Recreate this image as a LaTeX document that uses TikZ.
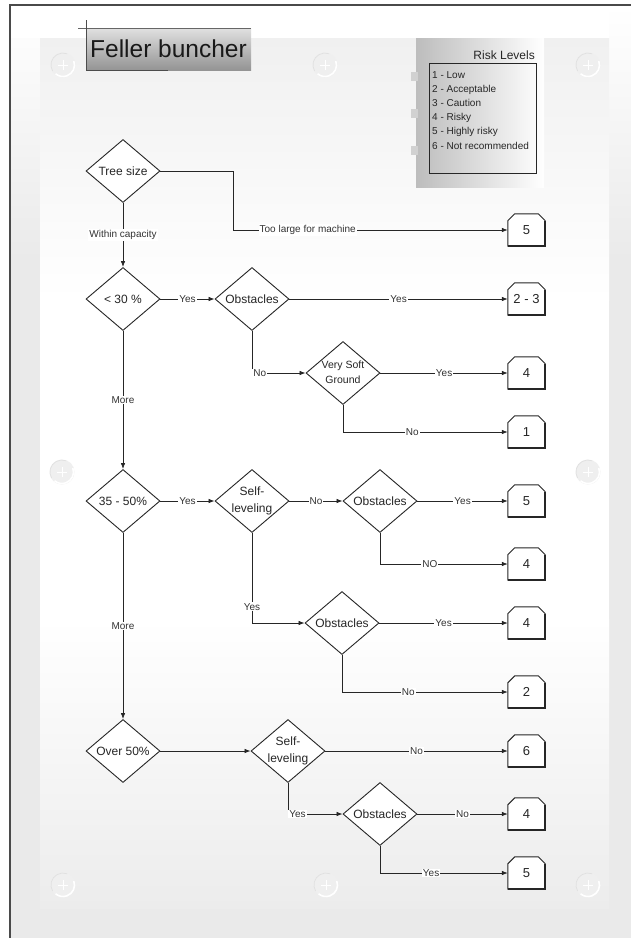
\documentclass[tikz,border=0pt]{standalone}
\usepackage{fontspec}
\setmainfont{Liberation Sans}
\usetikzlibrary{shapes.geometric,arrows.meta}
\definecolor{bgB}{HTML}{EAEAEA}
\definecolor{panT}{HTML}{F0F0F0}
\definecolor{panM}{HTML}{FFFFFF}
\definecolor{panB}{HTML}{ECECEC}
\definecolor{frameC}{HTML}{4A4A4A}
\definecolor{holeF}{HTML}{EFEFEF}
\definecolor{holeD}{HTML}{E0E0E0}
\definecolor{inkC}{HTML}{262626}
\newcommand\chamf[1]{%
  \filldraw[fill=white, draw=inkC, line width=0.9pt]
    (#1.south west) -- ([yshift=-7pt]#1.north west) -- ([xshift=7pt]#1.north west)
    -- ([xshift=-7pt]#1.north east) -- ([yshift=-7pt]#1.north east) -- (#1.south east) -- cycle;
  \draw[inkC, line width=1.6pt] ([yshift=-7pt]#1.north east) -- (#1.south east) -- (#1.south west);
}
\newcommand\hole[2]{%
  \fill[holeF] (#1,#2) circle (12.5);
  \draw[holeD, line width=0.7pt] (#1,#2) ++(150:12) arc (150:290:12);
  \draw[white, line width=1.6pt] (#1,#2) ++(-20:11.5) arc (-20:130:11.5);
  \draw[white, line width=0.7pt] (#1-5,#2) -- (#1+5,#2) (#1,#2-5) -- (#1,#2+5);
}
\tikzset{
  dia/.style={diamond, draw=inkC, fill=white, line width=0.9pt, minimum width=74pt, minimum height=63pt, inner sep=0pt},
  dtxt/.style={font=\fontsize{12}{17}\selectfont, align=center, inner sep=0pt, text=inkC},
  boxn/.style={rectangle, minimum width=37pt, minimum height=32pt, inner sep=0pt, draw=none},
  btxt/.style={font=\fontsize{13}{15}\selectfont, inner sep=0pt, text=inkC},
  conn/.style={draw=inkC, line width=0.7pt, -{Latex[length=6pt,width=4.5pt]}},
  lbl/.style={font=\fontsize{10}{12}\selectfont, fill=white, inner sep=1pt, text=black!80},
  risk/.style={font=\fontsize{10}{12}\selectfont, inner sep=0pt, text=inkC},
}
\begin{document}
\begin{tikzpicture}[x=1pt,y=-1pt]
\useasboundingbox (0,0) rectangle (631,938);
% background
\fill[white] (0,0) rectangle (631,938);
\shade[top color=white, bottom color=bgB] (10,5) rectangle (631,260);
\fill[bgB] (10,259) rectangle (631,938);
\fill[white] (10,5) rectangle (609,38);
\shade[top color=panT, bottom color=panM] (40,38) rectangle (609,300);
\fill[panM] (40,299) rectangle (609,620);
\shade[top color=panM, bottom color=panB] (40,619) rectangle (609,908);
\draw[frameC, line width=2.2pt] (640,5) -- (10,5) -- (10,945);
% binder holes
\hole{63}{65}\hole{325}{65}\hole{588}{65}
\hole{62}{472}\hole{588}{472}
\hole{63}{885}\hole{326}{885}\hole{588}{885}
% title
\shade[top color=black!12, bottom color=black!42] (86,28) rectangle (251,70);
\draw[black!60, line width=0.6pt] (78,28) -- (251,28);
\draw[black!70, line width=0.8pt] (86,20) -- (86,70);
\draw[black!70, line width=1pt] (86,70) -- (168,70);
\node[font=\fontsize{24.5}{28}\selectfont, inner sep=0pt, anchor=base west, text=black!90] (title) at (90,57) {Feller buncher};
% risk levels panel
\shade[left color=black!26, right color=white] (416,38) rectangle (544,187);
\fill[black!18] (411,72) rectangle (418,81);
\fill[black!18] (411,109) rectangle (418,118);
\fill[black!18] (411,146) rectangle (418,155);
\draw[inkC, line width=0.8pt] (429,63) rectangle (536,173);
\node[font=\fontsize{12}{14}\selectfont, inner sep=0pt, anchor=base east, text=inkC] (rl) at (535,59) {Risk Levels};
\node[risk, anchor=base west] (r1) at (432,78) {1 - Low};
\node[risk, anchor=base west] (r2) at (432,92.2) {2 - Acceptable};
\node[risk, anchor=base west] (r3) at (432,106.4) {3 - Caution};
\node[risk, anchor=base west] (r4) at (432,120.6) {4 - Risky};
\node[risk, anchor=base west] (r5) at (432,134.8) {5 - Highly risky};
\node[risk, anchor=base west] (r6) at (432,149) {6 - Not recommended};
% diamonds
\node[dia] (ts) at (123,171) {};  \node[dtxt] (tst) at (ts) {Tree size};
\node[dia] (p30) at (123,299) {}; \node[dtxt] (p30t) at (p30) {< 30 \%};
\node[dia] (ob1) at (252,299) {}; \node[dtxt] (ob1t) at (ob1) {Obstacles};
\node[dia] (vs) at (343,373) {};  \node[dtxt, font=\fontsize{10.5}{15}\selectfont] (vst) at ([yshift=1pt]vs) {Very Soft\\Ground};
\node[dia] (p35) at (123,501) {}; \node[dtxt] (p35t) at (p35) {35 - 50\%};
\node[dia] (sl1) at (252,501) {}; \node[dtxt] (sl1t) at (sl1) {Self-\\leveling};
\node[dia] (ob2) at (380,501) {}; \node[dtxt] (ob2t) at (ob2) {Obstacles};
\node[dia] (ob3) at (342,623) {}; \node[dtxt] (ob3t) at (ob3) {Obstacles};
\node[dia] (p50) at (123,751) {}; \node[dtxt] (p50t) at (p50) {Over 50\%};
\node[dia] (sl2) at (288,751) {}; \node[dtxt] (sl2t) at (sl2) {Self-\\leveling};
\node[dia] (ob4) at (380,814) {}; \node[dtxt] (ob4t) at (ob4) {Obstacles};
% result boxes
\node[boxn] (b1) at (526.5,230) {};  \chamf{b1}  \node[btxt] (b1t) at (b1) {5};
\node[boxn] (b2) at (526.5,299) {};  \chamf{b2}  \node[btxt] (b2t) at (b2) {2 - 3};
\node[boxn] (b3) at (526.5,373) {};  \chamf{b3}  \node[btxt] (b3t) at (b3) {4};
\node[boxn] (b4) at (526.5,432) {};  \chamf{b4}  \node[btxt] (b4t) at (b4) {1};
\node[boxn] (b5) at (526.5,501) {};  \chamf{b5}  \node[btxt] (b5t) at (b5) {5};
\node[boxn] (b6) at (526.5,564) {};  \chamf{b6}  \node[btxt] (b6t) at (b6) {4};
\node[boxn] (b7) at (526.5,623) {};  \chamf{b7}  \node[btxt] (b7t) at (b7) {4};
\node[boxn] (b8) at (526.5,692) {};  \chamf{b8}  \node[btxt] (b8t) at (b8) {2};
\node[boxn] (b9) at (526.5,751) {};  \chamf{b9}  \node[btxt] (b9t) at (b9) {6};
\node[boxn] (b10) at (526.5,814) {}; \chamf{b10} \node[btxt] (b10t) at (b10) {4};
\node[boxn] (b11) at (526.5,873) {}; \chamf{b11} \node[btxt] (b11t) at (b11) {5};
% connectors
\coordinate (c1) at (233,171);
\draw[conn] (ts.east) -- (c1) |- node[lbl, pos=0.636] {Too large for machine} (b1.west);
\draw[conn] (ts.south) -- node[lbl] {Within capacity} (p30.north);
\draw[conn] (p30.east) -- node[lbl] {Yes} (ob1.west);
\draw[conn] (ob1.east) -- node[lbl] {Yes} (b2.west);
\draw[conn] (ob1.south) |- node[lbl, pos=0.5, anchor=west] {No} (vs.west);
\draw[conn] (vs.east) -- node[lbl] {Yes} (b3.west);
\draw[conn] (vs.south) |- node[lbl, pos=0.71] {No} (b4.west);
\draw[conn] (p30.south) -- node[lbl] {More} (p35.north);
\draw[conn] (p35.east) -- node[lbl] {Yes} (sl1.west);
\draw[conn] (sl1.east) -- node[lbl] {No} (ob2.west);
\draw[conn] (ob2.east) -- node[lbl] {Yes} (b5.west);
\draw[conn] (ob2.south) |- node[lbl, pos=0.695] {NO} (b6.west);
\draw[conn] (sl1.south) |- node[lbl, pos=0.41] {Yes} (ob3.west);
\draw[conn] (ob3.east) -- node[lbl] {Yes} (b7.west);
\draw[conn] (ob3.south) |- node[lbl, pos=0.70] {No} (b8.west);
\draw[conn] (p35.south) -- node[lbl] {More} (p50.north);
\draw[conn] (p50.east) -- (sl2.west);
\draw[conn] (sl2.east) -- node[lbl] {No} (b9.west);
\draw[conn] (sl2.south) |- node[lbl, pos=0.5, anchor=west] {Yes} (ob4.west);
\draw[conn] (ob4.east) -- node[lbl] {No} (b10.west);
\draw[conn] (ob4.south) |- node[lbl, pos=0.70] {Yes} (b11.west);
\end{tikzpicture}
\end{document}
